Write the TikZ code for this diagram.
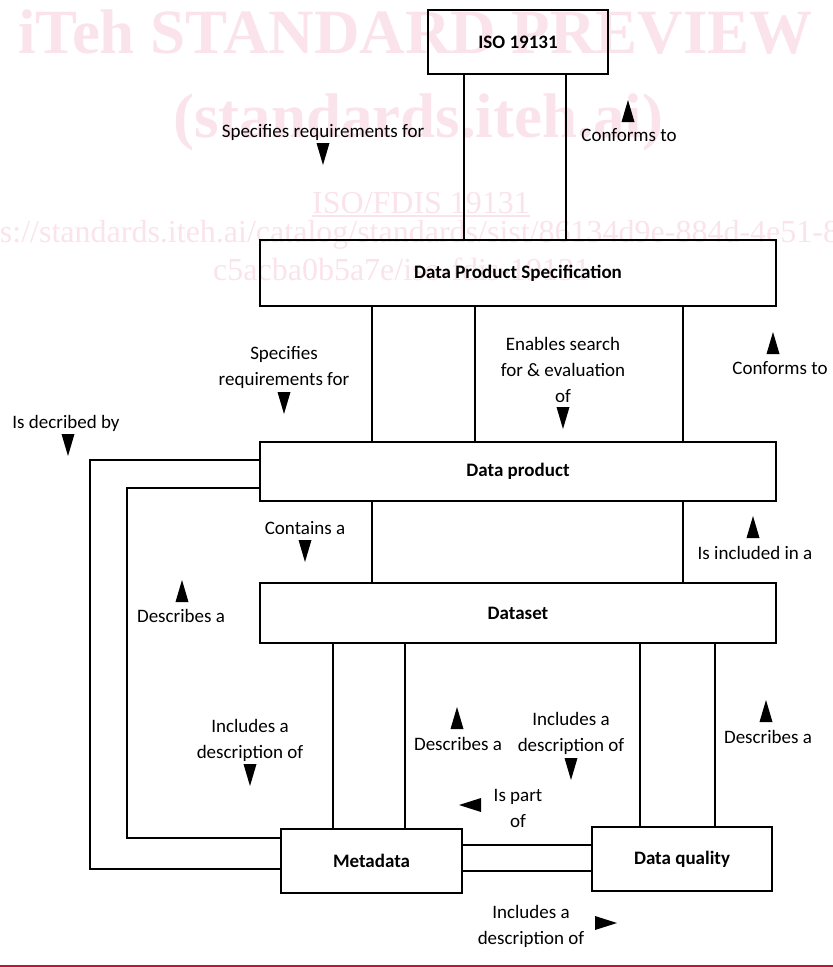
\documentclass[tikz,border=0pt]{standalone}
\usepackage{fontspec}
\setmainfont{Carlito}
\newfontfamily\wmfont{Liberation Serif}
\usetikzlibrary{calc}
\definecolor{wm}{RGB}{250,227,235}
\definecolor{redline}{RGB}{192,18,58}
\begin{document}
\begin{tikzpicture}[x=1pt,y=-1pt,
  box/.style={draw, line width=2pt, inner sep=0pt, font=\fontsize{19}{26}\selectfont\bfseries},
  conn/.style={line width=1.4pt},
  lbl/.style={align=center, font=\fontsize{19}{26}\selectfont, inner sep=0pt},
  wmbig/.style={text=wm, font=\wmfont\bfseries\fontsize{63}{63}\selectfont, inner sep=0pt, anchor=base west},
  wmsmall/.style={text=wm, font=\wmfont\fontsize{32}{32}\selectfont, inner sep=0pt, anchor=base west},
  pics/triup/.style={code={\fill (0,-11) -- (6.5,11) -- (-6.5,11) -- cycle;}},
  pics/tridown/.style={code={\fill (0,11) -- (6.5,-11) -- (-6.5,-11) -- cycle;}},
  pics/trileft/.style={code={\fill (-11,0) -- (11,-7) -- (11,7) -- cycle;}},
  pics/triright/.style={code={\fill (11,0) -- (-11,-7) -- (-11,7) -- cycle;}}
]
\useasboundingbox (0,0) rectangle (833,967);
% watermark
\node[wmbig] (wm1) at (18,53) {iTeh STANDARD PREVIEW};
\node[wmbig] (wm2) at (173,137) {(standards.iteh.ai)};
\node[wmsmall] (wm3) at (312,213) {ISO/FDIS 19131};
\draw[wm, line width=1.2pt] ([yshift=-3pt]wm3.base west) -- ([yshift=-3pt]wm3.base east);
\node[wmsmall] (wm4) at (-50,242) {https://standards.iteh.ai/catalog/standards/sist/86134d9e-884d-4e51-8};
\node[wmsmall] (wm5) at (213,280) {c5acba0b5a7e/iso-fdis-19131};
% boxes
\node[box, minimum width=180pt, minimum height=64pt] (iso) at (518,42) {ISO 19131};
\node[box, minimum width=516pt, minimum height=66pt] (dps) at (518,273) {Data Product Specification};
\node[box, minimum width=516pt, minimum height=59pt] (dp) at (518,471.5) {Data product};
\node[box, minimum width=516pt, minimum height=60pt] (ds) at (518,613) {Dataset};
\node[box, minimum width=181pt, minimum height=64pt] (md) at (371.5,861) {Metadata};
\node[box, minimum width=180pt, minimum height=64pt] (dq) at (682,859) {Data quality};
% helper coordinates
\coordinate (xa) at (464,0);
\coordinate (xb) at (566,0);
\coordinate (xc) at (372,0);
\coordinate (xd) at (475,0);
\coordinate (xe) at (683,0);
\coordinate (xf) at (333,0);
\coordinate (xg) at (405,0);
\coordinate (xh) at (640,0);
\coordinate (xi) at (715,0);
\coordinate (hA) at (0,845);
\coordinate (hB) at (0,871);
\coordinate (oA) at (0,460);
\coordinate (oB) at (90,869);
\coordinate (iA) at (0,488);
\coordinate (iB) at (127,838);
% connectors
\draw[conn] (iso.south -| xa) -- (dps.north -| xa);
\draw[conn] (iso.south -| xb) -- (dps.north -| xb);
\draw[conn] (dps.south -| xc) -- (dp.north -| xc);
\draw[conn] (dps.south -| xd) -- (dp.north -| xd);
\draw[conn] (dps.south -| xe) -- (dp.north -| xe);
\draw[conn] (dp.south -| xc) -- (ds.north -| xc);
\draw[conn] (dp.south -| xe) -- (ds.north -| xe);
\draw[conn] (ds.south -| xf) -- (md.north -| xf);
\draw[conn] (ds.south -| xg) -- (md.north -| xg);
\draw[conn] (ds.south -| xh) -- (dq.north -| xh);
\draw[conn] (ds.south -| xi) -- (dq.north -| xi);
\draw[conn] (md.east |- hA) -- (dq.west |- hA);
\draw[conn] (md.east |- hB) -- (dq.west |- hB);
\draw[conn] (dp.west |- oA) -| (oB) -- (md.west |- oB);
\draw[conn] (dp.west |- iA) -| (iB) -- (md.west |- iB);
% labels and direction markers
\node[lbl] (l1) at (323,132) {Specifies requirements for};
\pic at (323,154) {tridown};
\pic at (628,111) {triup};
\node[lbl] (l2) at (629,135) {Conforms to};
\node[lbl] (l3) at (284,367) {Specifies\\requirements for};
\pic at (284,403) {tridown};
\node[lbl] (l4) at (563,370) {Enables search\\for \& evaluation\\of};
\pic at (563,418) {tridown};
\pic at (773,343) {triup};
\node[lbl] (l5) at (780,368) {Conforms to};
\node[lbl] (l6) at (66,423) {Is decribed by};
\pic at (68,445) {tridown};
\node[lbl] (l7) at (305,528) {Contains a};
\pic at (305,551) {tridown};
\pic at (753,527) {triup};
\node[lbl] (l8) at (755,553) {Is included in a};
\pic at (182,591) {triup};
\node[lbl] (l9) at (181,616) {Describes a};
\node[lbl] (l10) at (250,740) {Includes a\\description of};
\pic at (250,775) {tridown};
\pic at (457,718) {triup};
\node[lbl] (l11) at (458,744) {Describes a};
\node[lbl] (l12) at (571,733) {Includes a\\description of};
\pic at (571,769) {tridown};
\pic at (766,711) {triup};
\node[lbl] (l13) at (768,737) {Describes a};
\pic at (470,805) {trileft};
\node[lbl] (l14) at (518,808) {Is part\\of};
\node[lbl] (l15) at (531,926) {Includes a\\description of};
\pic at (606,923) {triright};
% bottom rule
\coordinate (rl) at (0,966);
\coordinate (rr) at (833,966);
\draw[redline, line width=1.5pt] (rl) -- (rr);
\end{tikzpicture}
\end{document}
